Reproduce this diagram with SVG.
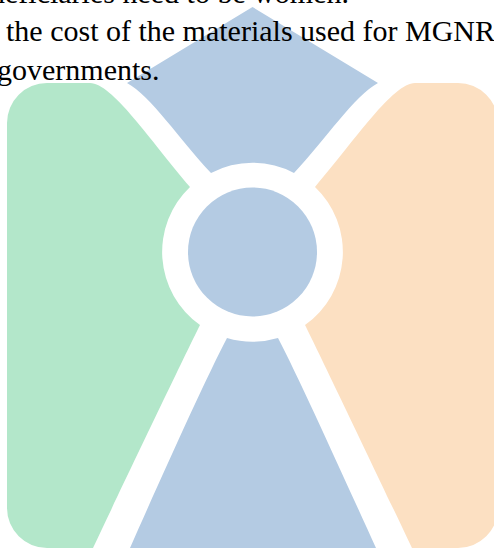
<svg xmlns="http://www.w3.org/2000/svg" width="494" height="548" viewBox="0 0 494 548">
  <style>
    .blue { fill: #B4CBE3; }
    .green { fill: #B3E7CA; }
    .orange { fill: #FCE0C2; }
    .txt { font-family: "Liberation Serif", "Times New Roman", serif; font-size: 30px; fill: #000000; }
  </style>
  <rect x="0" y="0" width="494" height="548" fill="#FFFFFF"/>
  <g id="node-top">
    <path class="blue" d="M 252.5,7 L 378,83 C 355,95 325,140 294,173 A 89.5 89.5 0 0 0 211,173 C 180,140 150,95 127,83 Z"/>
  </g>
  <g id="node-left">
    <path class="green" d="M 47,83 L 90,83 C 112,83 150,140 190,187 A 89.5 89.5 0 0 0 200,325 C 185,355 130,470 93,548 L 47,548 A 40 40 0 0 1 7,508 L 7,123 A 40 40 0 0 1 47,83 Z"/>
  </g>
  <g id="node-right">
    <path class="orange" d="M 415,83 L 458,83 A 40 40 0 0 1 498,123 L 498,508 A 40 40 0 0 1 458,548 L 412,548 C 375,470 320,355 305,325 A 89.5 89.5 0 0 0 315,187 C 355,140 393,83 415,83 Z"/>
  </g>
  <g id="node-bottom">
    <path class="blue" d="M 227,338 A 89.5 89.5 0 0 0 278,338 C 300,380 345,480 376,548 L 130,548 C 160,480 205,380 227,338 Z"/>
  </g>
  <g id="node-center">
    <circle class="blue" cx="252.5" cy="252" r="64.5"/>
  </g>
  <g id="connectors"></g>
  <g id="text">
    <text class="txt" x="-10" y="3">neficiaries need to be women.</text>
    <text class="txt" x="-11.5" y="41">f the cost of the materials used for MGNR</text>
    <text class="txt" x="-3" y="80">governments.</text>
  </g>
</svg>
